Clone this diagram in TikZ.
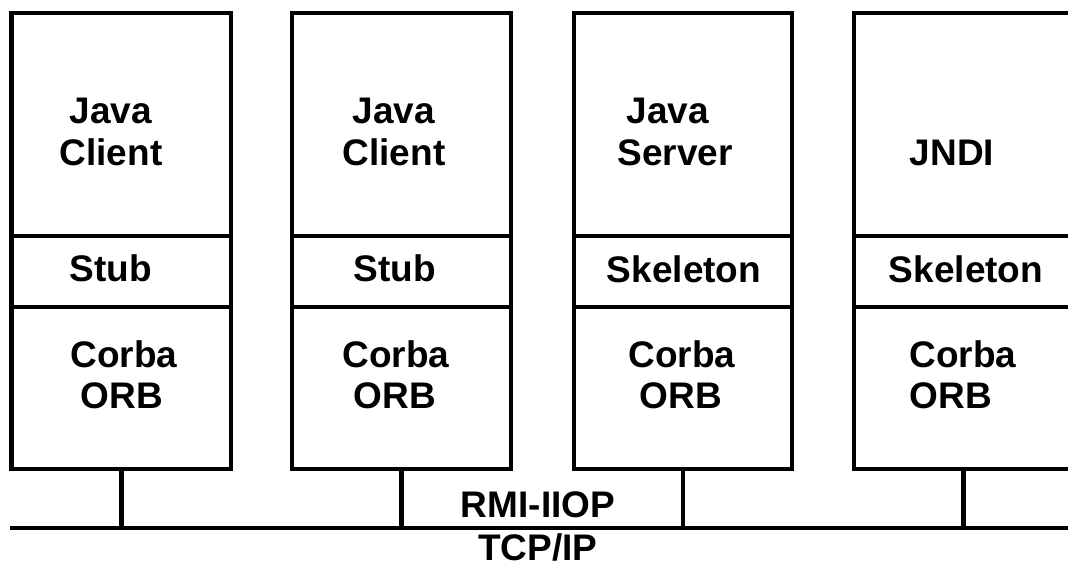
\documentclass[tikz,border=0pt]{standalone}
\usepackage{fontspec}
\setmainfont{Liberation Sans}
\begin{document}
\begin{tikzpicture}[x=1pt,y=-1pt,
  sect/.style={draw=black,line width=4.6pt,inner sep=0pt,outer sep=0pt,anchor=north west},
  wire/.style={draw=black,line width=4.6pt},
  txt/.style={font=\fontsize{37}{42}\selectfont\bfseries,anchor=base,inner sep=0pt,outer sep=0pt}]
\useasboundingbox (0,0) rectangle (1068,565);
\fill[white] (0,0) rectangle (1068,565);
\clip (0,0) rectangle (1068,565);
% box 1
\node[sect,minimum width=219.5pt,minimum height=223pt] (top1) at (11.5,13) {};
\node[sect,minimum width=219.5pt,minimum height=71pt] (mid1) at (11.5,236) {};
\node[sect,minimum width=219.5pt,minimum height=162pt] (bot1) at (11.5,307) {};
% box 2
\node[sect,minimum width=219pt,minimum height=223pt] (top2) at (292,13) {};
\node[sect,minimum width=219pt,minimum height=71pt] (mid2) at (292,236) {};
\node[sect,minimum width=219pt,minimum height=162pt] (bot2) at (292,307) {};
% box 3
\node[sect,minimum width=218pt,minimum height=223pt] (top3) at (574,13) {};
\node[sect,minimum width=218pt,minimum height=71pt] (mid3) at (574,236) {};
\node[sect,minimum width=218pt,minimum height=162pt] (bot3) at (574,307) {};
% box 4
\node[sect,minimum width=219pt,minimum height=223pt] (top4) at (854,13) {};
\node[sect,minimum width=219pt,minimum height=71pt] (mid4) at (854,236) {};
\node[sect,minimum width=219pt,minimum height=162pt] (bot4) at (854,307) {};
% texts
\node[txt] (j1) at (111,123) {Java};
\node[txt] (c1) at (111,165) {Client};
\node[txt] (s1) at (111,281) {Stub};
\node[txt] (o1) at (124,367) {Corba};
\node[txt] (r1) at (122,408) {ORB};
\node[txt] (j2) at (394,123) {Java};
\node[txt] (c2) at (394,165) {Client};
\node[txt] (s2) at (394.5,281) {Stub};
\node[txt] (o2) at (396,367) {Corba};
\node[txt] (r2) at (395,408) {ORB};
\node[txt] (j3) at (668,123) {Java};
\node[txt] (c3) at (675,165) {Server};
\node[txt] (s3) at (684,282) {Skeleton};
\node[txt] (o3) at (682,367) {Corba};
\node[txt] (r3) at (681,408) {ORB};
\node[txt] (j4) at (952,165) {JNDI};
\node[txt] (s4) at (966,282) {Skeleton};
\node[txt] (o4) at (963,367) {Corba};
\node[txt] (r4) at (951,408) {ORB};
\node[txt] (rmi) at (538,517) {RMI-IIOP};
\node[txt,text depth=0pt] (tcp) at (538,560) {TCP/IP};
% bus
\coordinate (busL) at (10,528);
\coordinate (busR) at (1068,528);
\draw[wire] (busL) -- (busR);
\draw[wire] (bot1.south) -- (bot1.south |- busL);
\draw[wire] (bot2.south) -- (bot2.south |- busL);
\draw[wire] (bot3.south) -- (bot3.south |- busL);
\draw[wire] (bot4.south) -- (bot4.south |- busL);
\end{tikzpicture}
\end{document}
